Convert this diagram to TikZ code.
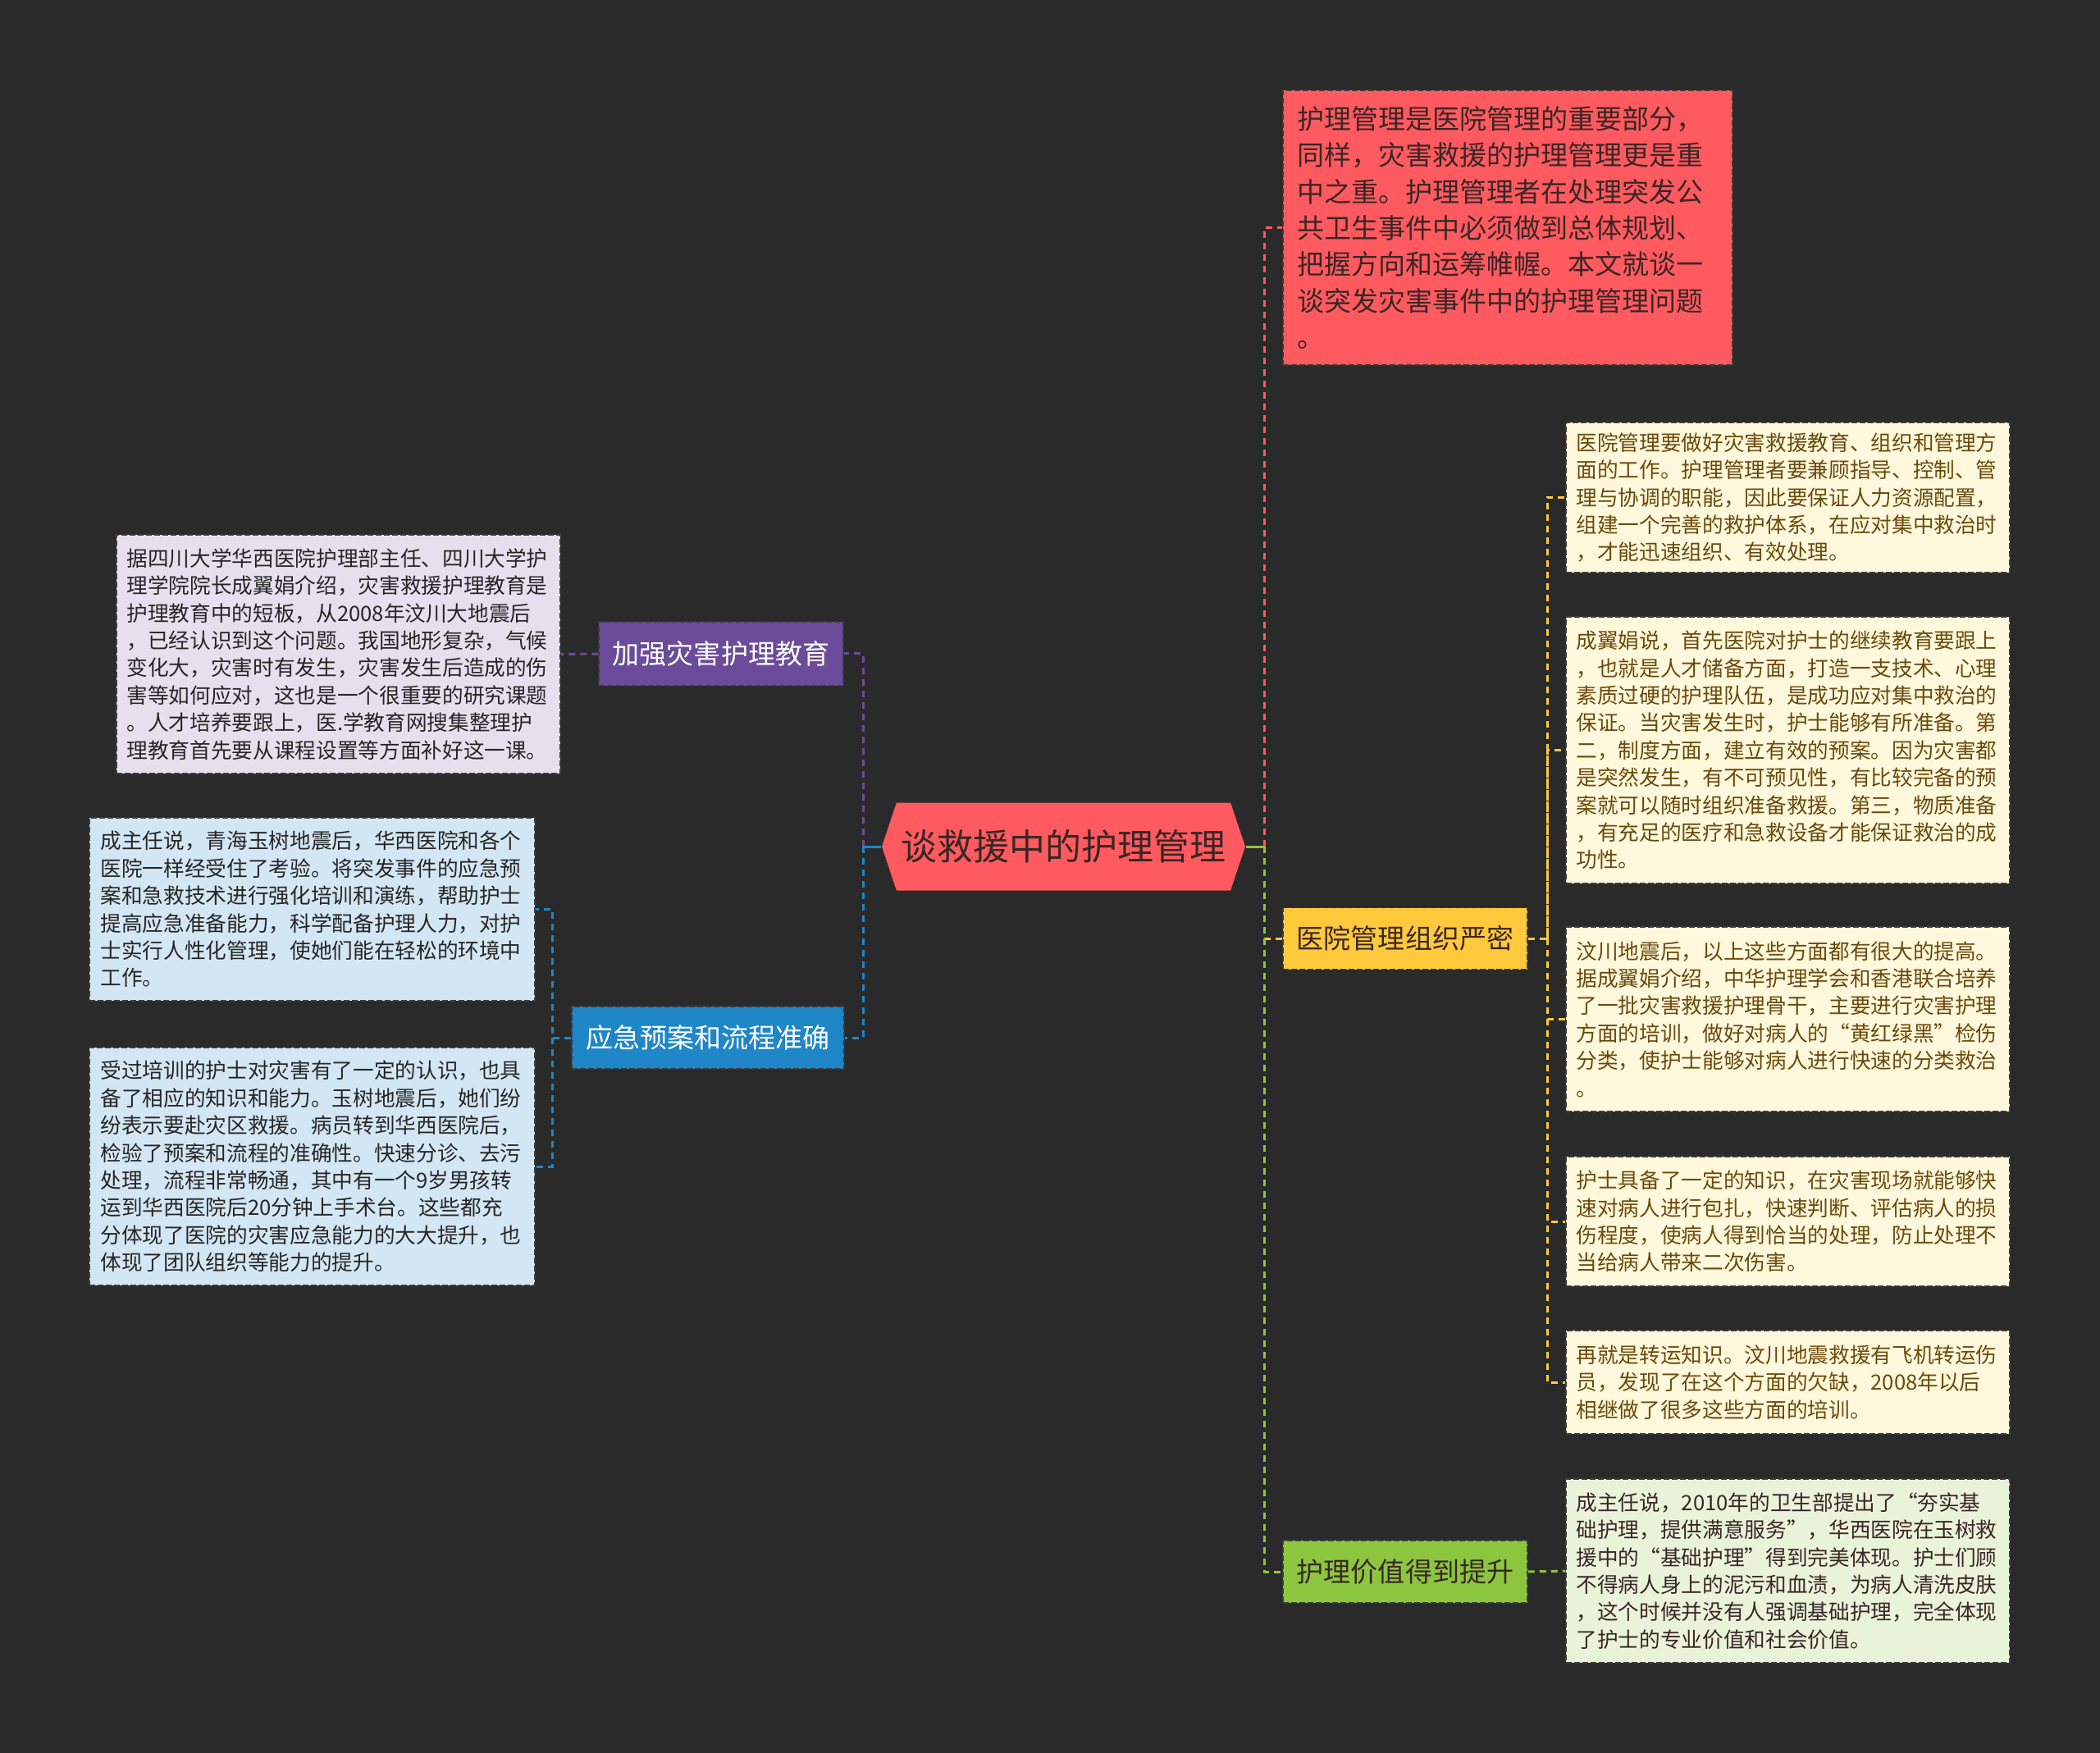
\documentclass[tikz,border=0pt]{standalone}
\usepackage{fontspec}
\setmainfont{Noto Sans CJK SC}
\usetikzlibrary{shapes.symbols}
\definecolor{bgdark}{HTML}{2A2A2A}
\definecolor{rootred}{HTML}{FF5A5F}
\definecolor{darktxt}{HTML}{3A2626}
\definecolor{edupurple}{HTML}{6B4C9A}
\definecolor{planblue}{HTML}{1F86C8}
\definecolor{orgyellow}{HTML}{FFC93C}
\definecolor{valgreen}{HTML}{8CC63F}
\definecolor{cream}{HTML}{FFF8DC}
\definecolor{creamtxt}{HTML}{6B4A0C}
\definecolor{lavender}{HTML}{E4E0EE}
\definecolor{paleblue}{HTML}{D3E6F3}
\definecolor{palegreen}{HTML}{E9F3DA}
\definecolor{rimgray}{HTML}{3C3C3C}

\begin{document}
\begin{tikzpicture}[
  root/.style={signal,signal to=west and east,signal pointer angle=143,fill=rootred,
    minimum width=4.43cm,minimum height=1.07cm,inner sep=0pt,text=darktxt,
    font=\fontsize{12.5}{15}\selectfont},
  topic/.style={draw=rimgray,line width=0.15mm,dash pattern=on 0.7mm off 0.3mm,
    inner sep=0pt,font=\fontsize{9.4}{11}\selectfont},
  intro/.style={topic,fill=rootred,text=darktxt,align=left,text width=5.14cm,
    inner xsep=1.7mm,minimum height=3.35cm,font=\fontsize{9.4}{12.6}\selectfont},
  note/.style={draw=rimgray,line width=0.15mm,dash pattern=on 0.7mm off 0.3mm,
    align=left,text width=5.16cm,inner xsep=1.25mm,inner ysep=0pt,
    font=\fontsize{7.3}{9.5}\selectfont},
  link/.style={line width=0.3mm,dash pattern=on 0.8mm off 0.6mm}]

\fill[bgdark] (0,0) rectangle (25.6,-21.37);
\useasboundingbox (0,0) rectangle (25.6,-21.37);

\node[root] (root) at (12.965,-10.32) {谈救援中的护理管理};

\node[intro] (intro) at (18.38,-2.775) {护理管理是医院管理的重要部分，\\同样，灾害救援的护理管理更是重\\中之重。护理管理者在处理突发公\\共卫生事件中必须做到总体规划、\\把握方向和运筹帷幄。本文就谈一\\谈突发灾害事件中的护理管理问题\\。};

\node[topic,fill=orgyellow,text=darktxt,minimum width=2.98cm,minimum height=0.75cm] (org) at (17.13,-11.44) {医院管理组织严密};
\node[topic,fill=valgreen,text=darktxt,minimum width=2.98cm,minimum height=0.76cm] (val) at (17.13,-19.16) {护理价值得到提升};
\node[topic,fill=edupurple,text=white,minimum width=2.98cm,minimum height=0.78cm] (edu) at (8.79,-7.97) {加强灾害护理教育};
\node[topic,fill=planblue,text=white,minimum width=3.32cm,minimum height=0.76cm] (plan) at (8.63,-12.65) {应急预案和流程准确};

\node[note,fill=cream,text=creamtxt,minimum height=1.83cm] (org1) at (21.795,-6.065) {医院管理要做好灾害救援教育、组织和管理方\\面的工作。护理管理者要兼顾指导、控制、管\\理与协调的职能，因此要保证人力资源配置，\\组建一个完善的救护体系，在应对集中救治时\\，才能迅速组织、有效处理。};
\node[note,fill=cream,text=creamtxt,minimum height=3.25cm] (org2) at (21.795,-9.145) {成翼娟说，首先医院对护士的继续教育要跟上\\，也就是人才储备方面，打造一支技术、心理\\素质过硬的护理队伍，是成功应对集中救治的\\保证。当灾害发生时，护士能够有所准备。第\\二，制度方面，建立有效的预案。因为灾害都\\是突然发生，有不可预见性，有比较完备的预\\案就可以随时组织准备救援。第三，物质准备\\，有充足的医疗和急救设备才能保证救治的成\\功性。};
\node[note,fill=cream,text=creamtxt,minimum height=2.25cm] (org3) at (21.795,-12.425) {汶川地震后，以上这些方面都有很大的提高。\\据成翼娟介绍，中华护理学会和香港联合培养\\了一批灾害救援护理骨干，主要进行灾害护理\\方面的培训，做好对病人的“黄红绿黑”检伤\\分类，使护士能够对病人进行快速的分类救治\\。};
\node[note,fill=cream,text=creamtxt,minimum height=1.58cm] (org4) at (21.795,-14.89) {护士具备了一定的知识，在灾害现场就能够快\\速对病人进行包扎，快速判断、评估病人的损\\伤程度，使病人得到恰当的处理，防止处理不\\当给病人带来二次伤害。};
\node[note,fill=cream,text=creamtxt,minimum height=1.26cm] (org5) at (21.795,-16.85) {再就是转运知识。汶川地震救援有飞机转运伤\\员，发现了在这个方面的欠缺，2008年以后\\相继做了很多这些方面的培训。};
\node[note,fill=palegreen,text=darktxt,minimum height=2.24cm] (val1) at (21.795,-19.15) {成主任说，2010年的卫生部提出了“夯实基\\础护理，提供满意服务”，华西医院在玉树救\\援中的“基础护理”得到完美体现。护士们顾\\不得病人身上的泥污和血渍，为病人清洗皮肤\\，这个时候并没有人强调基础护理，完全体现\\了护士的专业价值和社会价值。};

\node[note,fill=lavender,text=black!85,minimum width=5.37cm,minimum height=2.91cm] (edu1) at (4.125,-7.975) {据四川大学华西医院护理部主任、四川大学护\\理学院院长成翼娟介绍，灾害救援护理教育是\\护理教育中的短板，从2008年汶川大地震后\\，已经认识到这个问题。我国地形复杂，气候\\变化大，灾害时有发生，灾害发生后造成的伤\\害等如何应对，这也是一个很重要的研究课题\\。人才培养要跟上，医.学教育网搜集整理护\\理教育首先要从课程设置等方面补好这一课。};
\node[note,fill=paleblue,text=black!85,minimum width=5.43cm,minimum height=2.23cm] (plan1) at (3.805,-11.085) {成主任说，青海玉树地震后，华西医院和各个\\医院一样经受住了考验。将突发事件的应急预\\案和急救技术进行强化培训和演练，帮助护士\\提高应急准备能力，科学配备护理人力，对护\\士实行人性化管理，使她们能在轻松的环境中\\工作。};
\node[note,fill=paleblue,text=black!85,minimum width=5.43cm,minimum height=2.9cm] (plan2) at (3.805,-14.22) {受过培训的护士对灾害有了一定的认识，也具\\备了相应的知识和能力。玉树地震后，她们纷\\纷表示要赴灾区救援。病员转到华西医院后，\\检验了预案和流程的准确性。快速分诊、去污\\处理，流程非常畅通，其中有一个9岁男孩转\\运到华西医院后20分钟上手术台。这些都充\\分体现了医院的灾害应急能力的大大提升，也\\体现了团队组织等能力的提升。};

\coordinate (ltrunk) at (10.52,-10.32);
\coordinate (rtrunk) at (15.41,-10.32);
\coordinate (btrunk) at (6.73,-12.65);
\coordinate (ytrunk) at (18.86,-11.44);

\draw[link,edupurple] (ltrunk) |- (edu.east);
\draw[link,planblue] (ltrunk) |- (plan.east);
\draw[line width=0.3mm,planblue] (root.west) -- (ltrunk);
\draw[link,rootred] (rtrunk) |- (intro.west);
\draw[link,orgyellow] (rtrunk) |- (org.west);
\draw[link,valgreen] (rtrunk) |- (val.west);
\draw[line width=0.3mm,valgreen] (root.east) -- (rtrunk);

\draw[link,edupurple] (edu.west) -- (edu1.east);
\draw[link,planblue] (plan.west) -- (btrunk) |- (plan1.east);
\draw[link,planblue] (btrunk) |- (plan2.east);
\draw[link,orgyellow] (org.east) -- (ytrunk) |- (org1.west);
\draw[link,orgyellow] (ytrunk) |- (org2.west);
\draw[link,orgyellow] (ytrunk) |- (org3.west);
\draw[link,orgyellow] (ytrunk) |- (org4.west);
\draw[link,orgyellow] (ytrunk) |- (org5.west);
\draw[link,valgreen] (val.east) -- (val1.west);
\end{tikzpicture}
\end{document}
